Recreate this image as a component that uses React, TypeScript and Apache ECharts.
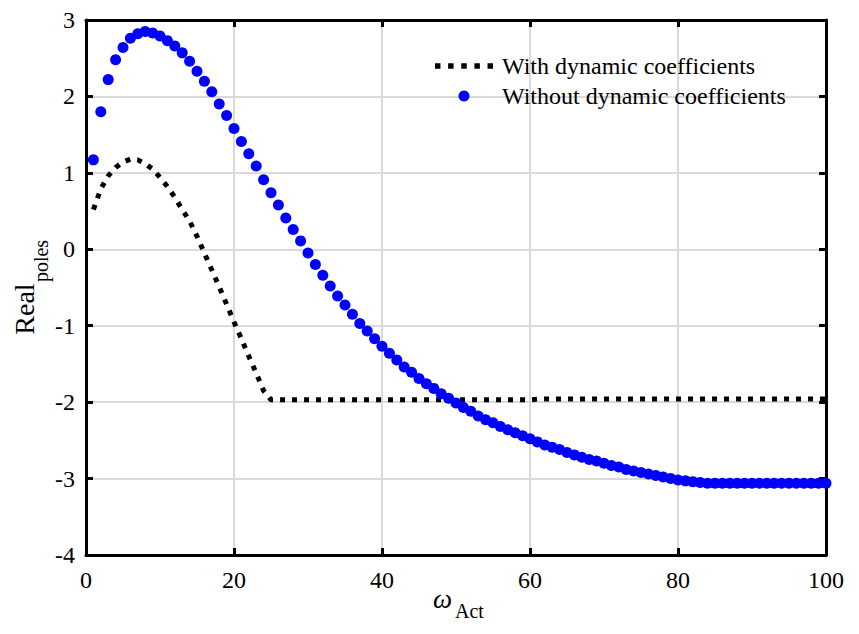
import React, { useEffect, useRef } from "react";
import * as echarts from "echarts";

// omega_Act sample points
const omegaAct = [
  1, 2, 3, 4, 5, 6, 7, 8, 9, 10, 11, 12, 13, 14, 15, 16, 17, 18, 19, 20,
  21, 22, 23, 24, 25, 26, 27, 28, 29, 30, 31, 32, 33, 34, 35, 36, 37, 38, 39, 40,
  41, 42, 43, 44, 45, 46, 47, 48, 49, 50, 51, 52, 53, 54, 55, 56, 57, 58, 59, 60,
  61, 62, 63, 64, 65, 66, 67, 68, 69, 70, 71, 72, 73, 74, 75, 76, 77, 78, 79, 80,
  81, 82, 83, 84, 85, 86, 87, 88, 89, 90, 91, 92, 93, 94, 95, 96, 97, 98, 99, 100,
];

const withDynamic = [
  0.52, 0.79, 0.96, 1.07, 1.14, 1.18, 1.17, 1.12, 1.05, 0.94,
  0.82, 0.68, 0.52, 0.37, 0.17, -0.05, -0.27, -0.49, -0.72, -0.95,
  -1.17, -1.4, -1.62, -1.85, -1.97, -1.97, -1.97, -1.97, -1.97, -1.97,
  -1.97, -1.97, -1.97, -1.97, -1.97, -1.97, -1.97, -1.97, -1.97, -1.97,
  -1.97, -1.97, -1.97, -1.97, -1.97, -1.97, -1.97, -1.97, -1.97, -1.97,
  -1.97, -1.97, -1.97, -1.97, -1.97, -1.97, -1.97, -1.97, -1.97, -1.97,
  -1.96, -1.96, -1.96, -1.96, -1.96, -1.96, -1.96, -1.96, -1.96, -1.96,
  -1.96, -1.96, -1.96, -1.96, -1.96, -1.96, -1.96, -1.96, -1.96, -1.96,
  -1.96, -1.96, -1.96, -1.96, -1.96, -1.96, -1.96, -1.96, -1.96, -1.96,
  -1.96, -1.96, -1.96, -1.96, -1.96, -1.96, -1.96, -1.96, -1.96, -1.96,
];

const withoutDynamic = [
  1.17, 1.8, 2.22, 2.48, 2.64, 2.76, 2.82, 2.85, 2.83, 2.79,
  2.73, 2.66, 2.57, 2.46, 2.33, 2.2, 2.06, 1.9, 1.75, 1.58,
  1.41, 1.25, 1.09, 0.91, 0.74, 0.58, 0.41, 0.26, 0.11, -0.05,
  -0.2, -0.34, -0.48, -0.61, -0.73, -0.85, -0.97, -1.07, -1.17, -1.27,
  -1.36, -1.45, -1.54, -1.61, -1.69, -1.76, -1.82, -1.89, -1.95, -2.01,
  -2.07, -2.12, -2.18, -2.23, -2.27, -2.32, -2.36, -2.4, -2.44, -2.48,
  -2.52, -2.56, -2.59, -2.62, -2.66, -2.69, -2.72, -2.75, -2.77, -2.8,
  -2.83, -2.85, -2.88, -2.9, -2.92, -2.94, -2.96, -2.98, -3.0, -3.02,
  -3.03, -3.04, -3.05, -3.06, -3.06, -3.06, -3.06, -3.06, -3.06, -3.06,
  -3.06, -3.06, -3.06, -3.06, -3.06, -3.06, -3.06, -3.06, -3.06, -3.06,
];

const seriesNames = ["With dynamic coefficients", "Without dynamic coefficients"];
const xRange = { min: 0, max: 100, interval: 20 };
const yRange = { min: -4, max: 3, interval: 1 };

const FONT = "'Liberation Serif', 'Times New Roman', serif";

const dottedIcon =
  "path://M0,0h5v5h-5z M12,0h5v5h-5z M24,0h5v5h-5z M36,0h5v5h-5z M48,0h5v5h-5z";

export default function App() {
  const ref = useRef<HTMLDivElement>(null);

  useEffect(() => {
    if (!ref.current) return;
    const chart = echarts.init(ref.current, null, { renderer: "svg" });

    const frameLine = { show: true, onZero: false, lineStyle: { color: "#000", width: 3 } };
    const tick = { show: true, inside: true, length: 7, lineStyle: { color: "#000", width: 3 } };
    const split = { show: true, lineStyle: { color: "#dadada", width: 2 } };
    const label = { fontFamily: FONT, fontSize: 24, color: "#000" };

    chart.setOption({
      animation: false,
      backgroundColor: "#fff",
      textStyle: { fontFamily: FONT },
      grid: { left: 86, top: 20, width: 740, height: 535, containLabel: false },
      xAxis: [
        {
          type: "value", ...xRange, position: "bottom",
          axisLine: frameLine, axisTick: tick, splitLine: split,
          axisLabel: { ...label, margin: 13 },
        },
        {
          type: "value", ...xRange, position: "top",
          axisLine: frameLine, axisTick: tick, splitLine: { show: false },
          axisLabel: { show: false },
        },
      ],
      yAxis: [
        {
          type: "value", ...yRange, position: "left",
          axisLine: frameLine, axisTick: tick, splitLine: split,
          axisLabel: { ...label, margin: 11 },
        },
        {
          type: "value", ...yRange, position: "right",
          axisLine: frameLine, axisTick: tick, splitLine: { show: false },
          axisLabel: { show: false },
        },
      ],
      legend: {
        orient: "vertical",
        left: 430,
        top: 49,
        itemWidth: 58,
        itemHeight: 11,
        itemGap: 6,
        selectedMode: false,
        textStyle: { fontFamily: FONT, fontSize: 24, color: "#000", padding: [0, 0, 0, 4] },
        data: [
          { name: seriesNames[0], icon: dottedIcon, itemStyle: { color: "#000" } },
          { name: seriesNames[1], icon: "circle", itemStyle: { color: "#0000ff" } },
        ],
      },
      series: [
        {
          name: seriesNames[0],
          type: "line",
          data: omegaAct.map((x, i) => [x, withDynamic[i]]),
          showSymbol: false,
          symbol: "none",
          lineStyle: { color: "#000", width: 5, type: [5, 7], cap: "butt" },
          itemStyle: { color: "#000" },
          z: 2,
        },
        {
          name: seriesNames[1],
          type: "scatter",
          data: omegaAct.map((x, i) => [x, withoutDynamic[i]]),
          symbol: "circle",
          symbolSize: 11,
          itemStyle: { color: "#0000ff", opacity: 1 },
          z: 3,
        },
      ],
      graphic: [
        {
          type: "text", left: 433, top: 585,
          style: { text: "ω", fontFamily: FONT, fontSize: 27, fontStyle: "italic", fill: "#000" },
        },
        {
          type: "text", left: 455, top: 601,
          style: { text: "Act", fontFamily: FONT, fontSize: 20, fill: "#000" },
        },
        {
          type: "text", x: 24, y: 309, rotation: Math.PI / 2,
          style: { text: "Real", fontFamily: FONT, fontSize: 28, fill: "#000", align: "center", verticalAlign: "middle" },
        },
        {
          type: "text", x: 41, y: 261, rotation: Math.PI / 2,
          style: { text: "poles", fontFamily: FONT, fontSize: 20, fill: "#000", align: "center", verticalAlign: "middle" },
        },
      ],
    });

    return () => chart.dispose();
  }, []);

  return (
    <div
      ref={ref}
      style={{ position: "absolute", left: 0, top: 0, width: 859, height: 634, background: "#fff" }}
    />
  );
}
